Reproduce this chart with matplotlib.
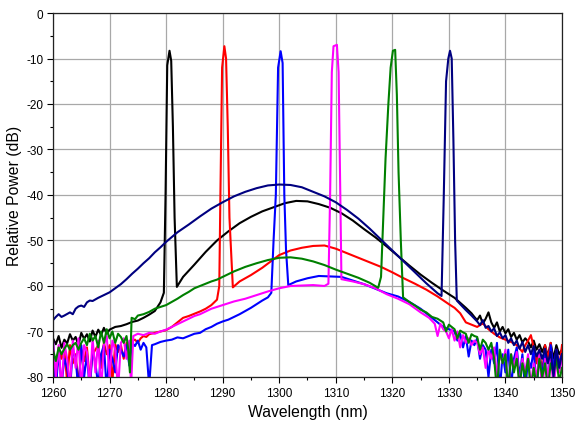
import matplotlib
matplotlib.use("Agg")
import matplotlib.pyplot as plt
from matplotlib.ticker import MultipleLocator

plt.rcParams['font.family'] = ['Liberation Sans', 'DejaVu Sans']
plt.rcParams['axes.unicode_minus'] = False

# spectra, wavelength (nm) / relative power (dB)
black_wl = [1260, 1260.5, 1261, 1261.5, 1262, 1262.5, 1263, 1263.5, 1264, 1264.5,
            1265, 1265.5, 1266, 1266.5, 1267, 1267.5, 1268, 1268.5, 1269, 1269.5,
            1270, 1271, 1272, 1273, 1274, 1275, 1276, 1277, 1278, 1279,
            1279.6, 1279.9, 1280.2, 1280.6, 1280.9, 1281.2, 1281.5, 1281.9,
            1283, 1285, 1287, 1289, 1291, 1293, 1295, 1297, 1299, 1301, 1303, 1305,
            1307, 1309, 1311, 1313, 1315, 1317, 1319, 1321, 1323, 1325, 1327, 1329,
            1331, 1333, 1334,
            1334.5, 1335, 1335.5, 1336, 1336.5, 1337, 1337.5, 1338, 1338.5, 1339,
            1339.5, 1340, 1340.5, 1341, 1341.5, 1342, 1342.5, 1343, 1343.5, 1344,
            1344.5, 1345, 1345.5, 1346, 1346.5, 1347, 1347.5, 1348, 1348.5, 1349,
            1349.5, 1350]
black_db = [-71.5, -72.8, -71.0, -73.6, -71.8, -72.6, -70.6, -72.0, -71.2, -73.0,
            -70.3, -71.6, -70.6, -72.2, -69.8, -71.2, -69.6, -70.8, -69.2, -70.5,
            -69.6, -69.0, -68.8, -68.4, -67.9, -67.6, -67.0, -66.3, -65.5, -63.6,
            -61.5, -40.0, -11.5, -8.3, -10.5, -25.0, -45.0, -60.2,
            -58.0, -55.3, -52.5, -50.0, -48.0, -46.2, -44.8, -43.6, -42.7, -41.8, -41.3, -41.4,
            -42.0, -42.8, -44.0, -45.6, -47.5, -49.3, -51.3, -53.4, -55.5, -57.5, -59.3, -61.0,
            -62.6, -64.8, -66.0,
            -66.8, -67.5, -66.5, -68.3, -67.2, -65.8, -68.0, -69.2, -68.0, -70.0,
            -69.0, -70.4, -69.5, -71.2, -70.3, -71.8, -70.8, -72.4, -71.5, -72.2,
            -73.5, -72.0, -74.0, -72.8, -74.5, -73.0, -75.5, -72.5, -76.0, -73.0,
            -75.0, -74.0]

red_wl = [1260, 1260.5, 1261, 1261.5, 1262, 1262.5, 1263, 1263.5, 1264, 1264.5,
          1265, 1265.5, 1266, 1266.5, 1267, 1267.5, 1268, 1268.5, 1269, 1269.5,
          1270, 1270.5, 1271, 1271.5, 1272, 1272.5, 1273, 1273.5, 1274, 1274.5,
          1275, 1275.5, 1276, 1276.5, 1277,
          1278, 1279, 1280, 1281, 1282, 1283, 1284, 1285, 1286, 1287, 1288, 1289,
          1289.4, 1289.6, 1289.9, 1290.3, 1290.6, 1290.9, 1291.2, 1291.8,
          1293, 1295, 1297, 1300, 1302, 1304, 1306, 1308, 1310, 1312, 1314, 1316,
          1318, 1320, 1322, 1324, 1326, 1328, 1330,
          1331, 1332, 1333, 1334, 1335, 1336, 1337, 1338, 1339, 1340, 1341, 1342, 1343,
          1343.5, 1344, 1344.5, 1345, 1345.5, 1346, 1346.5, 1347, 1347.5, 1348,
          1348.5, 1349, 1349.5, 1350]
red_db = [-74.0, -82.0, -73.5, -76.0, -74.0, -81.0, -73.0, -77.0, -75.0, -82.0,
          -74.0, -76.5, -73.5, -80.5, -75.0, -74.0, -73.0, -78.0, -72.5, -75.0,
          -73.0, -81.0, -72.8, -74.5, -73.0, -76.0, -72.5, -73.5, -72.0, -71.8,
          -72.5, -71.5, -71.0, -71.2, -70.6,
          -70.3, -70.0, -69.7, -69.0, -68.0, -67.0, -66.6, -66.1, -65.6, -65.0, -64.2, -63.0,
          -60.0, -40.0, -12.0, -7.3, -10.0, -25.0, -45.0, -60.3,
          -59.0, -57.6, -56.0, -53.2, -52.2, -51.6, -51.2, -51.1, -51.8, -52.8, -53.8, -54.8,
          -55.8, -57.0, -58.3, -59.5, -60.8, -62.3, -64.0,
          -64.8, -66.0, -68.0, -68.5, -69.0, -68.2, -69.5, -70.5, -71.3, -71.8, -72.3, -73.0, -74.5,
          -73.0, -72.0, -70.8, -73.5, -77.0, -74.0, -79.0, -73.0, -76.0, -72.5,
          -81.0, -74.0, -78.0, -73.0]

blue_wl = [1260, 1260.5, 1261, 1261.5, 1262, 1262.5, 1263, 1263.5, 1264, 1264.5,
           1265, 1265.5, 1266, 1266.5, 1267, 1267.5, 1268, 1268.5, 1269, 1269.5,
           1270, 1270.5, 1271, 1271.5, 1272, 1272.5, 1273, 1273.5, 1274, 1274.5,
           1275, 1275.5, 1276, 1276.5, 1277, 1277.5,
           1278, 1279, 1280, 1281, 1282, 1283, 1284, 1285, 1286, 1287, 1288,
           1289, 1290, 1291, 1292, 1293, 1294, 1295, 1296, 1297, 1298,
           1298.6, 1299, 1299.4, 1299.8, 1300.25, 1300.6, 1300.9, 1301.2, 1301.6,
           1303, 1305, 1307, 1309, 1311, 1313, 1315, 1317, 1319, 1321, 1323, 1325,
           1327, 1329, 1331,
           1331.5, 1332, 1332.5, 1333, 1333.5, 1334, 1334.5, 1335, 1335.5, 1336,
           1336.5, 1337, 1337.5, 1338, 1338.5, 1339, 1339.5, 1340, 1340.5, 1341,
           1341.5, 1342, 1342.5, 1343, 1343.5, 1344, 1344.5, 1345, 1345.5, 1346,
           1346.5, 1347, 1347.5, 1348, 1348.5, 1349, 1349.5, 1350]
blue_db = [-72.0, -83.0, -74.0, -82.0, -76.0, -78.0, -83.0, -74.0, -76.0, -83.0,
           -73.0, -80.0, -75.0, -83.0, -74.0, -77.0, -82.0, -75.0, -73.0, -83.0,
           -74.0, -76.0, -79.0, -73.0, -74.0, -75.5, -73.0, -77.5, -72.5, -73.2,
           -72.0, -74.0, -72.5, -73.5, -82.0, -73.0,
           -72.8, -72.3, -72.0, -71.8, -71.3, -71.5, -71.0, -70.5, -70.3, -69.5, -69.0,
           -68.3, -67.8, -67.4, -66.8, -66.2, -65.5, -64.8, -64.0, -63.2, -62.5,
           -61.5, -50.0, -40.0, -12.0, -8.4, -11.0, -40.0, -52.0, -59.8,
           -59.0, -58.3, -57.8, -57.9, -58.0, -58.8, -59.6, -60.6, -61.6, -62.3, -63.5, -65.0,
           -67.0, -69.0, -70.0,
           -72.0, -70.5, -73.5, -71.0, -75.5, -72.0, -73.0, -71.5, -76.0, -73.0,
           -74.0, -80.0, -74.0, -77.0, -72.5, -83.0, -75.0, -79.0, -74.0, -82.0,
           -76.0, -73.5, -80.0, -75.0, -83.0, -76.0, -78.0, -74.0, -83.0, -75.0,
           -80.0, -74.0, -82.0, -73.0, -78.0, -74.0, -77.0, -75.0]

magenta_wl = [1260, 1260.5, 1261, 1261.5, 1262, 1262.5, 1263, 1263.5, 1264, 1264.5,
              1265, 1265.5, 1266, 1266.5, 1267, 1267.5, 1268, 1268.5, 1269, 1269.5,
              1270, 1270.5, 1271, 1271.5, 1272, 1272.5, 1273, 1273.5,
              1273.8, 1274.2,
              1275, 1276, 1277, 1278, 1279, 1280, 1281, 1282, 1283, 1284, 1285, 1286,
              1287, 1288, 1289, 1290,
              1292, 1294, 1296, 1298, 1300, 1302, 1304, 1306, 1308,
              1308.7, 1309.0, 1309.3, 1309.6, 1310.2, 1310.5, 1310.8, 1311.0,
              1313, 1315, 1317, 1319, 1321, 1323, 1325,
              1326.5, 1327.5,
              1328, 1328.5, 1329, 1329.5, 1330, 1330.5, 1331, 1331.5, 1332, 1332.5,
              1333, 1333.5, 1334, 1334.5, 1335, 1335.5, 1336, 1336.5, 1337, 1337.5,
              1338, 1338.5, 1339, 1339.5, 1340, 1340.5, 1341, 1341.5, 1342, 1342.5,
              1343, 1343.5, 1344, 1344.5, 1345, 1345.5, 1346, 1346.5, 1347, 1347.5,
              1348, 1348.5, 1349, 1349.5, 1350]
magenta_db = [-72.0, -80.0, -73.0, -83.0, -72.5, -76.0, -82.0, -72.0, -78.0, -71.5,
              -83.0, -73.0, -74.5, -82.0, -71.5, -79.0, -72.0, -83.0, -73.0, -71.0,
              -80.0, -72.0, -74.0, -83.0, -72.5, -71.5, -76.0, -72.0,
              -82.0, -71.0,
              -70.5, -70.8, -70.3, -70.5, -70.0, -69.6, -69.0, -68.4, -67.8, -67.2, -66.6, -66.2,
              -65.6, -65.0, -64.6, -64.2,
              -63.4, -62.8, -62.0, -61.2, -60.5, -60.0, -59.9, -59.8, -60.0,
              -59.5, -40.0, -13.0, -7.3, -7.0, -13.0, -40.0, -58.5,
              -59.0, -59.6, -60.5, -61.8, -62.8, -64.0, -65.8,
              -67.0, -68.3,
              -71.0, -68.3, -69.5, -70.0, -71.5, -69.5, -72.0, -70.0, -73.5, -70.8,
              -72.5, -71.5, -73.0, -72.0, -72.5, -75.0, -73.5, -78.0, -74.0, -76.0,
              -73.5, -80.0, -75.0, -77.0, -74.0, -83.0, -75.0, -78.0, -74.5, -82.0,
              -76.0, -79.0, -75.0, -82.0, -77.0, -80.0, -75.0, -83.0, -76.0, -80.0,
              -75.0, -82.0, -77.0, -79.0, -76.0]

green_wl = [1260, 1260.5, 1261, 1261.5, 1262, 1262.5, 1263, 1263.5, 1264, 1264.5,
            1265, 1265.5, 1266, 1266.5, 1267, 1267.5, 1268, 1268.5, 1269, 1269.5,
            1270, 1270.5, 1271, 1271.5, 1272, 1272.5, 1273,
            1273.3, 1273.6, 1273.9,
            1274.5, 1275, 1276, 1277, 1278, 1279, 1280, 1281, 1282, 1283, 1284, 1285,
            1286, 1287, 1288, 1289, 1290,
            1292, 1294, 1296, 1298, 1300, 1302, 1304, 1306, 1308, 1310, 1312, 1314, 1316,
            1317.5, 1318, 1318.4, 1318.8, 1319.3, 1319.7, 1320.1, 1320.5, 1320.8,
            1321.1, 1321.5, 1321.9,
            1323, 1324, 1325, 1326, 1327, 1328, 1329,
            1329.5, 1330, 1330.5, 1331, 1331.5, 1332, 1332.5, 1333, 1333.5, 1334,
            1334.5, 1335, 1335.5, 1336, 1336.5, 1337, 1337.5, 1338, 1338.5, 1339,
            1339.5, 1340, 1340.5, 1341, 1341.5, 1342, 1342.5, 1343, 1343.5, 1344,
            1344.5, 1345, 1345.5, 1346, 1346.5, 1347, 1347.5, 1348, 1348.5, 1349,
            1349.5, 1350]
green_db = [-74.0, -76.5, -73.5, -75.0, -73.8, -72.8, -74.0, -73.0, -72.5, -74.0,
            -72.5, -71.5, -73.0, -70.5, -72.0, -71.0, -73.5, -70.0, -72.5, -69.5,
            -71.5, -70.0, -72.5, -70.5, -71.2, -72.5, -71.0,
            -74.0, -79.0, -67.0,
            -67.3, -66.5, -66.2, -65.7, -65.0, -64.6, -64.2, -63.5, -62.8, -62.0, -61.3, -60.5,
            -60.0, -59.5, -59.0, -58.6, -58.0,
            -56.8, -55.8, -55.0, -54.3, -53.8, -53.7, -54.0, -54.6, -55.4, -56.4, -57.3, -58.2, -59.3,
            -60.4, -58.0, -45.0, -32.0, -20.0, -12.0, -8.3, -8.1, -18.0,
            -35.0, -50.0, -62.5,
            -63.5, -64.3, -65.2, -65.8, -66.8, -67.2, -68.0,
            -70.0, -68.5, -69.0, -69.5, -71.5, -69.8, -70.2, -70.5, -72.5, -70.6,
            -71.0, -71.2, -74.0, -71.8, -72.5, -74.0, -72.5, -76.0, -83.0, -74.0,
            -77.0, -75.0, -83.0, -75.0, -79.0, -76.0, -82.0, -77.0, -80.0, -76.0,
            -83.0, -78.0, -82.0, -76.0, -80.0, -77.0, -83.0, -77.0, -79.0, -76.0,
            -81.0, -78.0]

navy_wl = [1260, 1260.5, 1261, 1261.5, 1262, 1263, 1263.5, 1264, 1264.5, 1265,
           1265.5, 1266, 1266.5, 1267,
           1268, 1269, 1270, 1271, 1272, 1273, 1274, 1275, 1276, 1277, 1278, 1279, 1280,
           1282, 1284, 1286, 1288, 1290, 1292, 1294, 1296, 1298, 1300, 1302, 1304,
           1306, 1308, 1310, 1312, 1314, 1316, 1318, 1320, 1322, 1324, 1326, 1328,
           1328.7, 1329.1, 1329.5, 1329.9, 1330.2, 1330.5, 1330.8, 1331.1, 1331.4,
           1332, 1333, 1334, 1335,
           1335.5, 1336, 1336.5, 1337, 1337.5, 1338, 1338.5, 1339, 1339.5, 1340,
           1340.5, 1341, 1341.5, 1342, 1342.5, 1343, 1343.5, 1344, 1344.5, 1345,
           1345.5, 1346, 1346.5, 1347, 1347.5, 1348, 1348.5, 1349, 1349.5, 1350]
navy_db = [-67.5, -66.8, -66.2, -66.8, -66.5, -65.8, -66.2, -65.0, -64.5, -64.3,
           -64.6, -63.6, -63.2, -63.3,
           -62.6, -62.0, -61.4, -60.5, -59.6, -58.5, -57.3, -56.2, -55.0, -53.9, -52.6, -51.5, -50.3,
           -48.2, -46.5, -44.7, -43.0, -41.6, -40.3, -39.3, -38.5, -37.9, -37.7, -37.8, -38.3,
           -39.3, -40.3, -41.6, -43.3, -45.2, -47.4, -49.8, -52.2, -54.6, -57.0, -59.4, -61.6,
           -62.2, -40.0, -15.0, -10.0, -8.3, -10.0, -28.0, -50.0, -63.2,
           -64.0, -65.3, -66.5, -67.8,
           -68.6, -67.5, -69.2, -68.8, -70.0, -69.3, -71.0, -70.2, -71.5, -70.8,
           -72.5, -71.5, -73.0, -72.0, -73.8, -72.3, -74.5, -73.0, -75.0, -73.2,
           -75.5, -74.0, -76.0, -73.8, -77.0, -74.5, -80.0, -74.0, -78.0, -75.0]

xticks = [1260, 1270, 1280, 1290, 1300, 1310, 1320, 1330, 1340, 1350]
yticks = [0, -10, -20, -30, -40, -50, -60, -70, -80]

fig = plt.figure(figsize=(5.87, 4.27), dpi=100)
ax = fig.add_axes([0.0903, 0.1148, 0.8671, 0.8524])

lw = 1.5
ax.plot(black_wl, black_db, color="black", lw=lw)
ax.plot(red_wl, red_db, color="#ff0000", lw=lw)
ax.plot(blue_wl, blue_db, color="#0000ff", lw=lw)
ax.plot(magenta_wl, magenta_db, color="#ff00ff", lw=lw)
ax.plot(green_wl, green_db, color="#008000", lw=lw)
ax.plot(navy_wl, navy_db, color="#000080", lw=lw)

ax.set_xlim(1260, 1350)
ax.set_ylim(-80, 0)
ax.set_xticks(xticks)
ax.set_yticks(yticks)
ax.xaxis.set_minor_locator(MultipleLocator(5))
ax.yaxis.set_minor_locator(MultipleLocator(5))
ax.tick_params(which="major", direction="out", length=4, width=0.8, labelsize=8.5, pad=3)
ax.tick_params(which="minor", direction="out", length=2, width=0.8)
ax.tick_params(top=False, right=False, which="both")
ax.grid(True, which="major", color="#a8a8a8", lw=0.9)
ax.set_axisbelow(True)
for s in ax.spines.values():
    s.set_linewidth(0.9)
    s.set_color("#222222")

ax.set_xlabel("Wavelength (nm)", fontsize=11.3, labelpad=4)
ax.set_ylabel("Relative Power (dB)", fontsize=11.3, labelpad=3)

fig.savefig("out.png", dpi=100)
